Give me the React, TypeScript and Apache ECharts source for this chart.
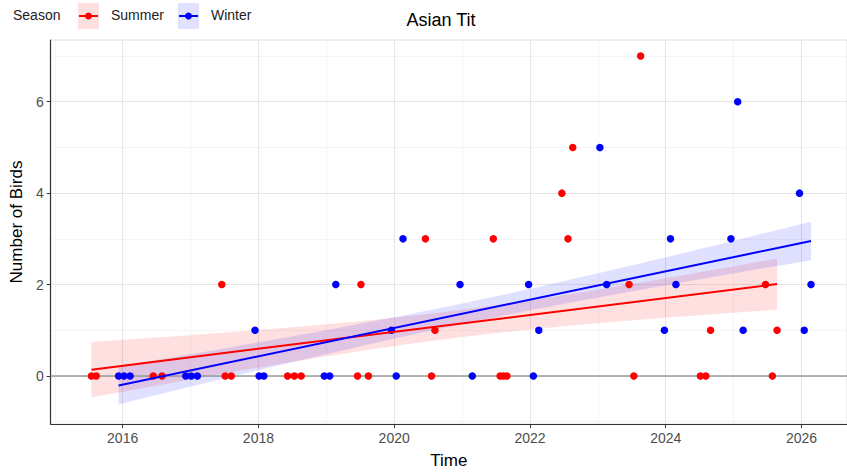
import React, { useEffect, useRef } from "react";
import * as echarts from "echarts";

// ---- data ----
const summerTime = [
  2015.54, 2015.61, 2016.45, 2016.58, 2017.51, 2017.6, 2018.43, 2018.53, 2018.63, 2019.46,
  2019.62, 2020.55, 2021.56, 2021.61, 2021.66, 2023.53, 2024.51, 2024.59, 2025.57,
  2020.6, 2024.66, 2025.64,
  2017.46, 2019.51, 2023.46, 2025.47,
  2020.46, 2021.46, 2022.56,
  2022.47,
  2022.63,
  2023.63,
];
const summerCount = [
  0, 0, 0, 0, 0, 0, 0, 0, 0, 0,
  0, 0, 0, 0, 0, 0, 0, 0, 0,
  1, 1, 1,
  2, 2, 2, 2,
  3, 3, 3,
  4,
  5,
  7,
];
const winterTime = [
  2015.94, 2016.02, 2016.11, 2016.93, 2017.01, 2017.1, 2018.01, 2018.08, 2018.97, 2019.05,
  2020.03, 2021.15, 2022.05,
  2017.95, 2019.96, 2022.13, 2023.98, 2025.14, 2026.04,
  2019.14, 2020.97, 2021.98, 2023.13, 2024.15, 2026.14,
  2020.13, 2024.07, 2024.96,
  2025.97,
  2023.03,
  2025.06,
];
const winterCount = [
  0, 0, 0, 0, 0, 0, 0, 0, 0, 0,
  0, 0, 0,
  1, 1, 1, 1, 1, 1,
  2, 2, 2, 2, 2, 2,
  3, 3, 3,
  4,
  5,
  6,
];
const xMajorTicks = [2016, 2018, 2020, 2022, 2024, 2026];
const xMinorTicks = [2015, 2017, 2019, 2021, 2023, 2025];
const yMajorTicks = [0, 2, 4, 6];
const yMinorTicks = [-1, 1, 3, 5, 7];
const seasonNames = ["Summer", "Winter"];
const seasonColors = ["#ff0000", "#0000ff"];
const bandColors = ["rgba(255,0,0,0.12)", "rgba(0,0,255,0.12)"];
// width of the shaded band around each fit, in standard errors of the fitted mean
const bandSE = 1;

const FONT = "Liberation Sans, Arial, sans-serif";

// ordinary least squares fit with a standard-error band (like geom_smooth(method = "lm"))
function lmFit(xs: number[], ys: number[]) {
  const n = xs.length;
  const xbar = xs.reduce((a, b) => a + b, 0) / n;
  const ybar = ys.reduce((a, b) => a + b, 0) / n;
  let sxx = 0;
  let sxy = 0;
  for (let i = 0; i < n; i++) {
    sxx += (xs[i] - xbar) ** 2;
    sxy += (xs[i] - xbar) * (ys[i] - ybar);
  }
  const b = sxy / sxx;
  const a = ybar - b * xbar;
  let sse = 0;
  for (let i = 0; i < n; i++) sse += (ys[i] - (a + b * xs[i])) ** 2;
  const s2 = sse / (n - 2);
  const x0 = Math.min(...xs);
  const x1 = Math.max(...xs);
  const steps = 80;
  const upper: number[][] = [];
  const lower: number[][] = [];
  for (let k = 0; k <= steps; k++) {
    const x = x0 + ((x1 - x0) * k) / steps;
    const yhat = a + b * x;
    const se = Math.sqrt(s2 * (1 / n + (x - xbar) ** 2 / sxx));
    upper.push([x, yhat + bandSE * se]);
    lower.push([x, yhat - bandSE * se]);
  }
  return {
    line: [
      [x0, a + b * x0],
      [x1, a + b * x1],
    ],
    upper,
    lower,
  };
}

export default function App() {
  const ref = useRef<HTMLDivElement>(null);

  useEffect(() => {
    if (!ref.current) return;
    const chart = echarts.init(ref.current, undefined, { renderer: "svg" });

    const groups = [
      { t: summerTime, c: summerCount },
      { t: winterTime, c: winterCount },
    ];
    const fits = groups.map((g) => lmFit(g.t, g.c));

    const series: any[] = [];

    // grid lines
    series.push({
      type: "line",
      data: [],
      z: 0,
      silent: true,
      markLine: {
        silent: true,
        z: 0,
        symbol: "none",
        animation: false,
        label: { show: false },
        data: [
          ...xMinorTicks.map((v) => ({ xAxis: v, lineStyle: { color: "#f0f0f0", width: 0.7, type: "solid" } })),
          ...yMinorTicks.map((v) => ({ yAxis: v, lineStyle: { color: "#f0f0f0", width: 0.7, type: "solid" } })),
          ...xMajorTicks.map((v) => ({ xAxis: v, lineStyle: { color: "#e6e6e6", width: 1.1, type: "solid" } })),
          ...yMajorTicks.map((v) => ({ yAxis: v, lineStyle: { color: "#e6e6e6", width: 1.1, type: "solid" } })),
        ],
      },
    });
    // zero reference line
    series.push({
      type: "line",
      data: [],
      z: 2,
      silent: true,
      markLine: {
        silent: true,
        z: 2,
        symbol: "none",
        animation: false,
        label: { show: false },
        data: [{ yAxis: 0, lineStyle: { color: "#9a9a9a", width: 1.6, type: "solid" } }],
      },
    });

    // shaded bands
    fits.forEach((f, i) => {
      series.push({
        type: "custom",
        name: seasonNames[i] + " band",
        z: 1,
        silent: true,
        clip: true,
        data: [f.line[0]],
        renderItem: (params: any, api: any) => {
          if (params.dataIndex !== 0) return null;
          const pts = f.upper
            .map((p) => api.coord(p))
            .concat(f.lower.slice().reverse().map((p) => api.coord(p)));
          return {
            type: "polygon",
            shape: { points: pts },
            style: { fill: bandColors[i], stroke: "none" },
          };
        },
      });
    });

    // points
    groups.forEach((g, i) => {
      series.push({
        type: "scatter",
        name: seasonNames[i],
        z: 3,
        symbol: "circle",
        symbolSize: 7.5,
        itemStyle: { color: seasonColors[i], opacity: 1 },
        data: g.t.map((x, k) => [x, g.c[k]]),
      });
    });

    // fit lines
    fits.forEach((f, i) => {
      series.push({
        type: "line",
        name: seasonNames[i] + " fit",
        z: 4,
        showSymbol: false,
        symbol: "none",
        lineStyle: { color: seasonColors[i], width: 2 },
        data: f.line,
      });
    });

    // legend drawn as graphic (ggplot style keys)
    const legendGraphic: any[] = [
      {
        type: "text",
        left: 13,
        top: 8,
        style: { text: "Season", font: `14px ${FONT}`, fill: "#222" },
      },
    ];
    const keyX = [78, 178];
    const labelX = [111, 211];
    seasonNames.forEach((name, i) => {
      legendGraphic.push(
        { type: "rect", shape: { x: keyX[i], y: 3, width: 21, height: 26 }, style: { fill: bandColors[i] } },
        {
          type: "line",
          shape: { x1: keyX[i] + 1, y1: 16, x2: keyX[i] + 20, y2: 16 },
          style: { stroke: seasonColors[i], lineWidth: 2 },
        },
        { type: "circle", shape: { cx: keyX[i] + 10.5, cy: 16, r: 3.5 }, style: { fill: seasonColors[i] } },
        {
          type: "text",
          left: labelX[i],
          top: 8,
          style: { text: name, font: `14px ${FONT}`, fill: "#222" },
        }
      );
    });

    chart.setOption({
      animation: false,
      backgroundColor: "#ffffff",
      title: {
        text: "Asian Tit",
        left: 436,
        top: 6,
        textAlign: "center",
        textStyle: { fontFamily: FONT, fontSize: 18, fontWeight: "normal", color: "#000" },
      },
      graphic: legendGraphic,
      grid: {
        left: 48,
        top: 40,
        width: 807,
        height: 384,
        show: true,
        borderColor: "#dedede",
        borderWidth: 1,
        containLabel: false,
      },
      xAxis: {
        type: "value",
        min: 2014.94,
        max: 2026.67,
        name: "Time",
        nameLocation: "middle",
        nameGap: 28,
        nameTextStyle: { fontFamily: FONT, fontSize: 17, color: "#000" },
        axisLine: { show: true, onZero: false, lineStyle: { color: "#333", width: 1.2 } },
        axisTick: { show: true, length: 4, customValues: xMajorTicks, lineStyle: { color: "#333" } },
        axisLabel: {
          customValues: xMajorTicks,
          margin: 7,
          fontFamily: FONT,
          fontSize: 14,
          color: "#4d4d4d",
          formatter: (v: number) => String(Math.round(v)),
        },
        splitLine: { show: false },
      },
      yAxis: {
        type: "value",
        min: -1.05,
        max: 7.35,
        name: "Number of Birds",
        nameLocation: "middle",
        nameGap: 22,
        nameTextStyle: { fontFamily: FONT, fontSize: 17, color: "#000", padding: [0, 0, 0, 20] },
        axisLine: { show: true, onZero: false, lineStyle: { color: "#333", width: 1.2 } },
        axisTick: { show: true, length: 4, customValues: yMajorTicks, lineStyle: { color: "#333" } },
        axisLabel: {
          customValues: yMajorTicks,
          margin: 7,
          fontFamily: FONT,
          fontSize: 14,
          color: "#4d4d4d",
        },
        splitLine: { show: false },
      },
      series,
    });

    return () => chart.dispose();
  }, []);

  return (
    <div
      ref={ref}
      style={{ position: "absolute", left: 0, top: 0, width: 847, height: 474 }}
    />
  );
}
